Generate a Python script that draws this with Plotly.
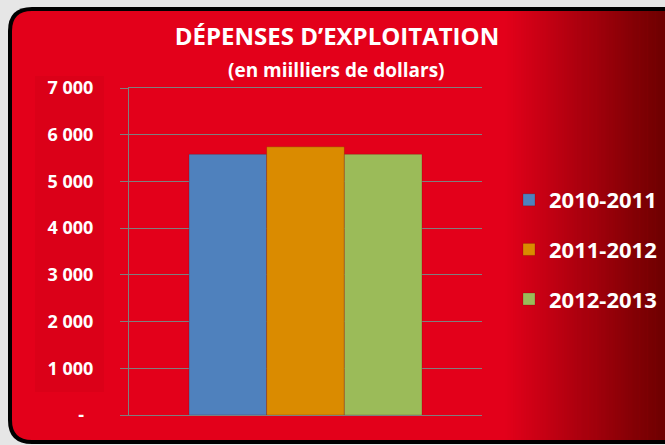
import plotly.graph_objects as go

categories = ["Dépenses"]
years = ["2010-2011", "2011-2012", "2012-2013"]
values = [5580, 5740, 5580]
bar_colors = ["#4F81BD", "#DA8B00", "#9BBB59"]
tick_vals = [0, 1000, 2000, 3000, 4000, 5000, 6000, 7000]
tick_text = ["-\u00a0\u00a0", "1 000", "2 000", "3 000", "4 000", "5 000", "6 000", "7 000"]

W, H = 665, 445
L, R, T, B = 129, 482, 88, 415
PW, PH = R - L, B - T


def px(x):
    return (x - L) / PW


def py(y):
    return (B - y) / PH


def rounded(x0, y0, x1, y1, r):
    return (f"M {px(x0 + r)},{py(y0)} L {px(x1)},{py(y0)} L {px(x1)},{py(y1)} "
            f"L {px(x0 + r)},{py(y1)} Q {px(x0)},{py(y1)} {px(x0)},{py(y1 - r)} "
            f"L {px(x0)},{py(y0 + r)} Q {px(x0)},{py(y0)} {px(x0 + r)},{py(y0)} Z")


shapes = []
shapes.append(dict(type="path", xref="paper", yref="paper", layer="below",
                   path=rounded(8, 7, 720, 444, 24), fillcolor="#000000", line=dict(width=0)))
shapes.append(dict(type="path", xref="paper", yref="paper", layer="below",
                   path=rounded(12, 11, 720, 440, 20), fillcolor="#E3001A", line=dict(width=0)))
# gradient on right side
g0, g1 = 505, 666
n = 60
c0 = (227, 0, 26)
c1 = (108, 0, 0)
for i in range(n):
    xa = g0 + (g1 - g0) * i / n
    xb = g0 + (g1 - g0) * (i + 1) / n + 0.6
    t = (i + 0.5) / n
    col = tuple(round(c0[k] + (c1[k] - c0[k]) * t) for k in range(3))
    shapes.append(dict(type="rect", xref="paper", yref="paper", layer="below",
                       x0=px(xa), x1=px(xb), y0=py(440), y1=py(11),
                       fillcolor=f"rgb{col}", line=dict(width=0)))
# subtle darker band behind the axis labels
shapes.append(dict(type="rect", xref="paper", yref="paper", layer="below",
                   x0=px(35), x1=px(104), y0=py(392), y1=py(76),
                   fillcolor="rgba(190,0,20,0.22)", line=dict(width=0)))

fig = go.Figure()
for yr, v, c in zip(years, values, bar_colors):
    fig.add_trace(go.Bar(x=categories, y=[v], name=yr, legendgroup=yr,
                         marker=dict(color=c, line=dict(width=0.6, color="rgba(80,0,0,0.35)"))))

fig.update_layout(
    width=W, height=H,
    margin=dict(l=L, r=W - R, t=T, b=H - B, pad=0, autoexpand=False),
    paper_bgcolor="#E6E6E6",
    plot_bgcolor="rgba(0,0,0,0)",
    barmode="group", bargap=0.34, bargroupgap=0,
    shapes=shapes,
    font=dict(family="Open Sans", color="white"),
    title=dict(text="DÉPENSES D’EXPLOITATION", x=px(337), xref="paper", xanchor="center",
               y=1 - 37 / H, yref="container", yanchor="middle",
               font=dict(family="Open Sans", size=24, color="white", weight="bold")),
    annotations=[dict(text="(en miilliers de dollars)", xref="paper", yref="paper",
                      x=px(336), y=py(70), showarrow=False, xanchor="center", yanchor="middle",
                      font=dict(family="Open Sans", size=19, color="white", weight="bold"))],
    legend=dict(x=px(509), xanchor="left", y=py(179), yanchor="top",
                font=dict(family="Open Sans", size=22, color="white", weight="bold"),
                bgcolor="rgba(0,0,0,0)", tracegroupgap=18, traceorder="grouped"),
    showlegend=True,
)
fig.update_yaxes(range=[0, 7000], tickvals=tick_vals, ticktext=tick_text,
                 showgrid=True, gridcolor="#7F7F7F", gridwidth=1, zeroline=False,
                 showline=True, linecolor="#7F7F7F", linewidth=1,
                 ticks="outside", ticklen=8, tickcolor="#7F7F7F",
                 ticklabelstandoff=23, automargin=False,
                 tickfont=dict(family="Open Sans", size=18, color="white", weight="bold"))
fig.update_xaxes(showticklabels=False, showgrid=False, zeroline=False,
                 showline=True, mirror=True, linecolor="#7F7F7F", linewidth=1, ticks="",
                 automargin=False)

fig.write_html("out.html", config={"displayModeBar": False},
               post_script="document.body.style.margin='0';document.body.style.padding='0';")
